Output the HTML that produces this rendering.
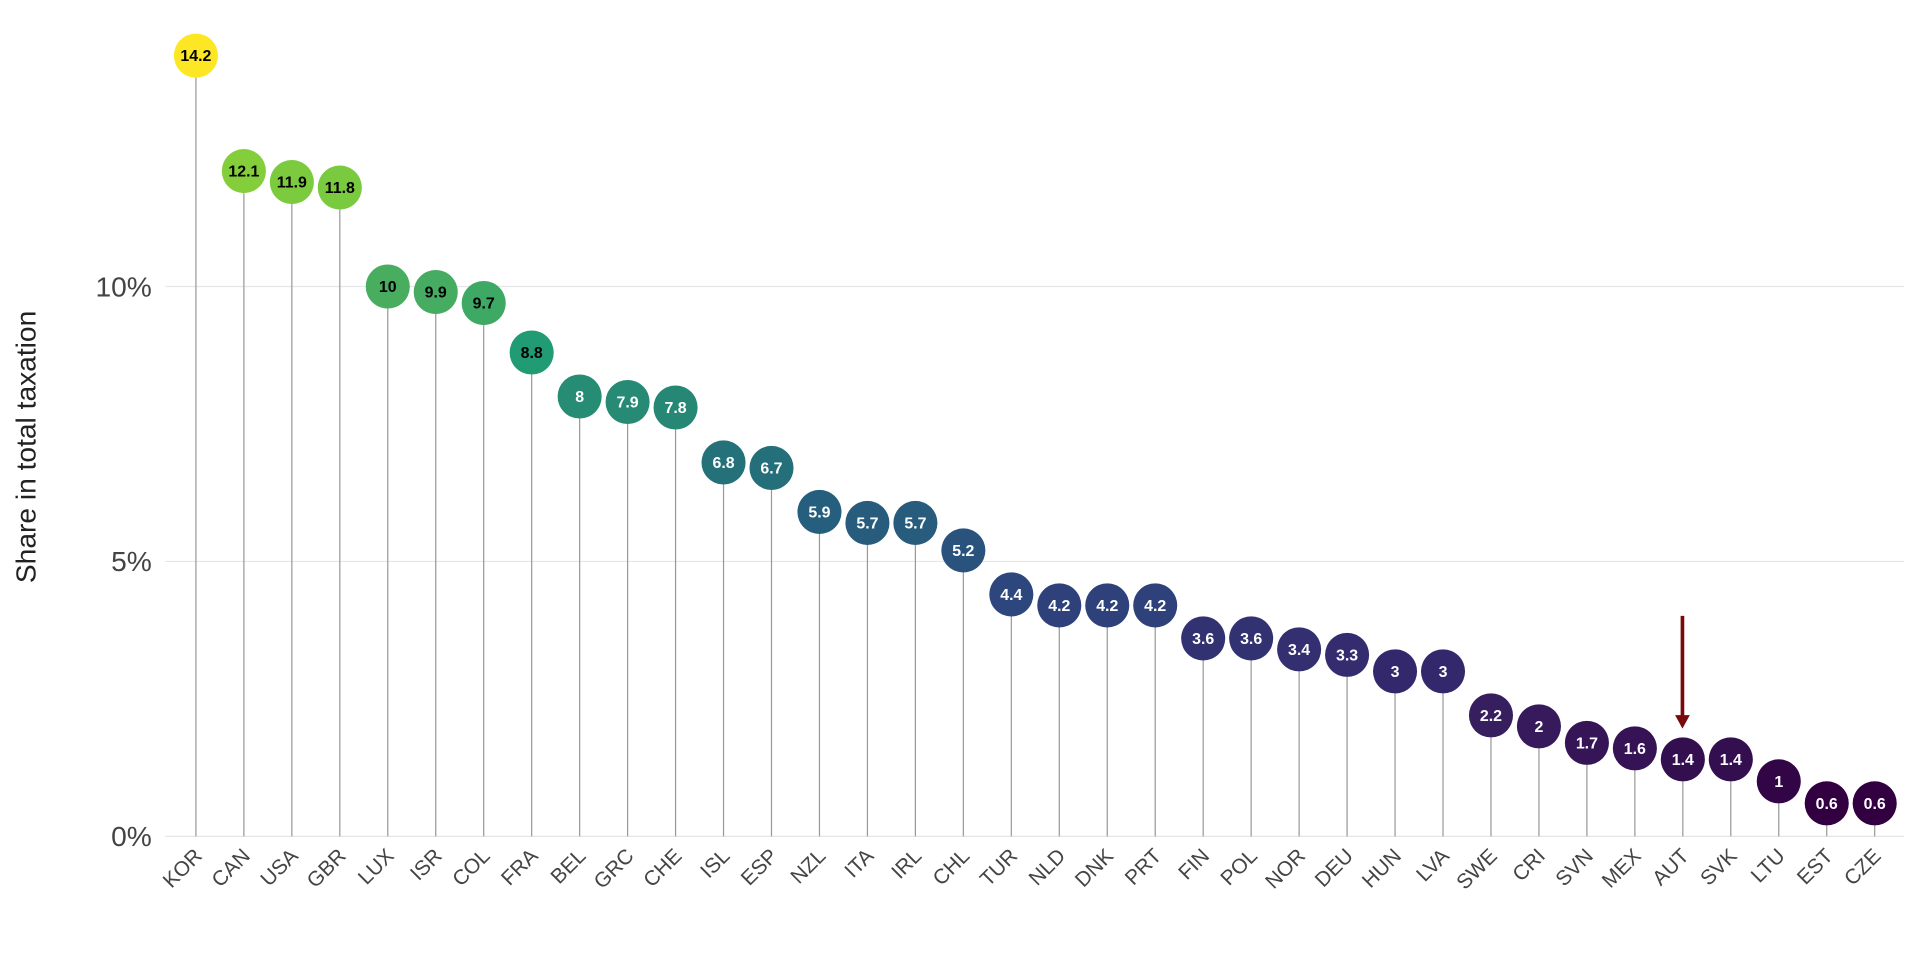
<!DOCTYPE html>
<html><head><meta charset="utf-8"><style>
html,body{margin:0;padding:0;background:#fff;}
svg{display:block;font-family:"Liberation Sans",sans-serif;}
</style></head><body>
<svg id="chart" width="1920" height="960" viewBox="0 0 1568 784">
<text transform="translate(29,365) rotate(-90)" text-anchor="middle" font-size="23" fill="#222">Share in total taxation</text>
<g id="grid"></g>
<g id="marks"></g>
<g id="xlabels"></g>
<g>
<line x1="1374" y1="503" x2="1374" y2="586" stroke="#7a0a0a" stroke-width="3"/>
<polygon points="1368,584 1380,584 1374,595" fill="#7a0a0a"/>
</g>
</svg>
<script>
const categories=["KOR","CAN","USA","GBR","LUX","ISR","COL","FRA","BEL","GRC","CHE","ISL","ESP","NZL","ITA","IRL","CHL","TUR","NLD","DNK","PRT","FIN","POL","NOR","DEU","HUN","LVA","SWE","CRI","SVN","MEX","AUT","SVK","LTU","EST","CZE"];
const values=[14.2,12.1,11.9,11.8,10,9.9,9.7,8.8,8,7.9,7.8,6.8,6.7,5.9,5.7,5.7,5.2,4.4,4.2,4.2,4.2,3.6,3.6,3.4,3.3,3,3,2.2,2,1.7,1.6,1.4,1.4,1,0.6,0.6];
const yTicks=[0,5,10];
const yTickLabels=["0%","5%","10%"];
const NS="http://www.w3.org/2000/svg";
const y0=683, pxPer=44.9;
function yScale(v){return y0-v*pxPer;}
function xScale(i){return 160+i*(1531-160)/(categories.length-1);}
// colour ramp (value stop -> rgb), approximating the reference palette
const rampV=[0.6,1,1.4,2.2,3,3.6,4.4,5.9,6.8,8,8.8,10,12,14.2];
const rampC=[[50,0,65],[50,5,70],[52,15,80],[55,30,95],[52,40,108],[50,50,115],[45,70,125],[38,95,125],[36,113,122],[38,140,115],[33,155,115],[72,173,95],[127,205,60],[253,231,37]];
function colorFor(v){
 if(v<=rampV[0])return `rgb(${rampC[0].join(',')})`;
 for(let i=0;i<rampV.length-1;i++){if(v<=rampV[i+1]){const f=(v-rampV[i])/(rampV[i+1]-rampV[i]);
 const c=rampC[i].map((a,k)=>Math.round(a+(rampC[i+1][k]-a)*f));return `rgb(${c.join(',')})`;}}
 return `rgb(${rampC[rampC.length-1].join(',')})`;
}
const grid=document.getElementById('grid');
yTicks.forEach((t,i)=>{
 const l=document.createElementNS(NS,'line');
 
 
 l.setAttribute('x1',135);l.setAttribute('x2',1555);l.setAttribute('y1',yScale(t));l.setAttribute('y2',yScale(t));
 l.setAttribute('stroke','#e6e6e6');l.setAttribute('stroke-width','1');grid.appendChild(l);
 const tx=document.createElementNS(NS,'text');
 
 
 tx.setAttribute('x',124);tx.setAttribute('y',yScale(t)+8);tx.setAttribute('text-anchor','end');
 tx.setAttribute('font-size','23');tx.setAttribute('fill','#444');tx.textContent=yTickLabels[i];grid.appendChild(tx);
});
const marks=document.getElementById('marks'), xl=document.getElementById('xlabels');
const r=18;
categories.forEach((c,i)=>{
 const x=xScale(i), y=yScale(values[i]);
 const ln=document.createElementNS(NS,'line');
 
 
 ln.setAttribute('x1',x);ln.setAttribute('x2',x);ln.setAttribute('y1',y+r);ln.setAttribute('y2',y0);
 ln.setAttribute('stroke','#999');ln.setAttribute('stroke-width','1');marks.appendChild(ln);
 const ci=document.createElementNS(NS,'circle');
 
 
 ci.setAttribute('cx',x);ci.setAttribute('cy',y);ci.setAttribute('r',r);ci.setAttribute('fill',colorFor(values[i]));marks.appendChild(ci);
 const vt=document.createElementNS(NS,'text');
 
 
 vt.setAttribute('x',x);vt.setAttribute('y',y+4.5);vt.setAttribute('text-anchor','middle');
 vt.setAttribute('font-size','13');vt.setAttribute('font-weight','bold');
 vt.setAttribute('fill',values[i]>=8.5?'#000':'#fff');vt.textContent=values[i];marks.appendChild(vt);
 const lt=document.createElementNS(NS,'text');
 
 
 lt.setAttribute('transform',`translate(${x+6},${700}) rotate(-45)`);lt.setAttribute('text-anchor','end');
 lt.setAttribute('font-size','17');lt.setAttribute('fill','#444');lt.textContent=c;xl.appendChild(lt);
});
</script>
</body></html>
